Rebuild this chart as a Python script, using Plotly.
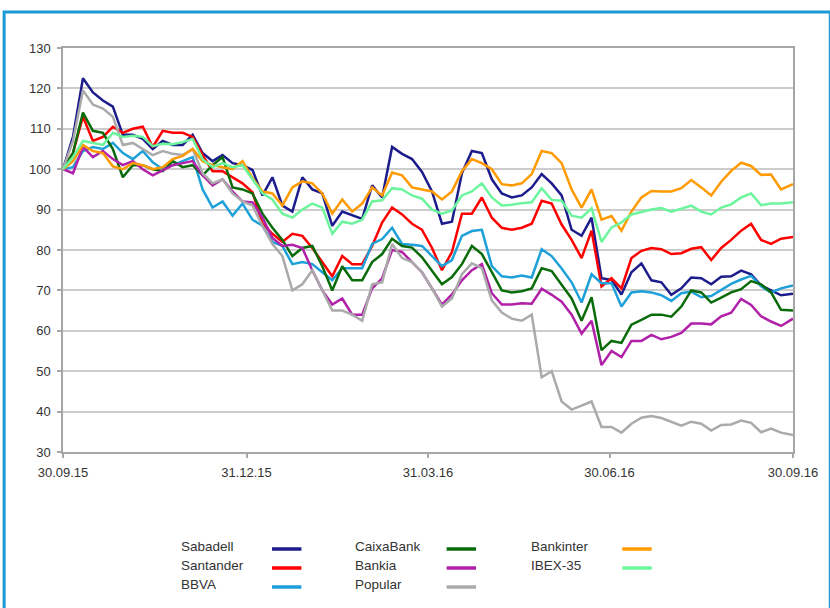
import plotly.graph_objects as go
import pandas as pd

# ---------------- data ----------------
dates = list(pd.date_range("2015-09-30", periods=73, freq="5D")) + [pd.Timestamp("2016-09-30")]

names = ["Sabadell", "Santander", "BBVA", "CaixaBank", "Bankia", "Popular", "Bankinter", "IBEX-35"]
colors = ["#1c1c8c", "#ff0000", "#1ea0d8", "#0a6b0a", "#b020a8", "#aaaaaa", "#ff9a00", "#6cf59c"]

sabadell = [100, 108, 122.5, 119, 117, 115.5, 108.5, 108.5, 107.5, 105,
            107, 106, 106, 108.5, 104, 102, 103.5, 101.5, 101, 99.8,
            93.5, 98, 91, 89.5, 98, 95, 94, 86, 89.5, 88.5,
            87.7, 96, 93, 105.5, 103.8, 102.5, 99.3, 94.5, 86.5, 87,
            99, 104.5, 104, 97.5, 94, 93, 93.5, 95.5, 98.8, 96.5,
            93.5, 85, 83.5, 88, 73, 72.6, 69, 74.5, 76.7, 72.5,
            72, 68.9, 70.5, 73.2, 73, 71.5, 73.4, 73.5, 74.9, 74,
            71.2, 70, 68.8, 69.2]
santander = [100, 104, 113, 107, 108, 110.5, 109, 110, 110.5, 105.5,
             109.5, 109, 109, 108, 103.5, 99.5, 99.5, 98, 96.5, 94.3,
             86.5, 84, 82, 84, 83.5, 80.5, 77, 73.5, 78.5, 76.5,
             76.5, 81, 86.8, 90.5, 88.8, 86.5, 85, 80.5, 75, 79.5,
             89, 89, 93, 88, 85.5, 85, 85.5, 86.5, 92.2, 91.5,
             86.3, 82.5, 78, 84.8, 71, 73, 70.5, 78, 79.8, 80.5,
             80.2, 79, 79.2, 80.3, 80.7, 77.5, 80.5, 82.5, 84.8, 86.5,
             82.5, 81.5, 82.8, 83.2]
bbva = [100, 100.5, 104.5, 105.5, 105, 106.5, 104, 102.5, 104.5, 101.7,
        100, 101, 102, 103, 95, 90.5, 92, 88.5, 91.5, 87.5,
        86, 82, 81, 76.5, 77, 76.5, 74.5, 72.5, 75.5, 75.5,
        75.5, 81.5, 82.7, 85.5, 81.5, 81.3, 81, 78.5, 76, 77.5,
        83.5, 84.7, 85, 76, 73.5, 73.2, 73.7, 73.2, 80.2, 78.5,
        75.4, 72, 67, 74, 71.8, 71.8, 66, 69.5, 69.8, 69.5,
        68.8, 67.4, 69.3, 69.7, 68.3, 68.6, 70, 71.6, 72.7, 73.6,
        71, 69.5, 70.5, 71.2]
caixabank = [100, 104, 114, 109.5, 109, 105, 98, 101, 101, 100,
             99.5, 102, 100.5, 101, 98.5, 101, 103, 95.5, 95, 94,
             89, 85.5, 82.5, 78.5, 80.5, 81, 76, 70, 76, 72.5,
             72.5, 77, 79, 82.8, 81, 80.6, 78.2, 75, 71.5, 73.3,
             76.5, 81, 79, 74.5, 70, 69.5, 69.8, 70.5, 75.5, 74.8,
             71.5, 68, 62.5, 68.3, 55.2, 57.5, 57, 61.5, 62.7, 64,
             64, 63.5, 66, 70, 69.5, 67, 68.2, 69.5, 70.3, 72.3,
             71.5, 69.5, 65.2, 65]
bankia = [100, 99, 105.5, 103, 104.5, 102.5, 101, 102, 100, 98.5,
          99.7, 101, 101.5, 102, 98.5, 96, 97.5, 94.5, 92, 91.8,
          88, 83, 81, 81.3, 80.5, 75, 70, 66.5, 68, 64,
          64, 70.5, 73, 80, 79.5, 77, 74.5, 70.5, 66.5, 69,
          72.5, 75, 76.5, 69.3, 66.5, 66.5, 66.8, 66.7, 70.4, 68.9,
          67.2, 64, 59.3, 62.5, 51.5, 55, 53.5, 57.5, 57.5, 59,
          57.9, 58.5, 59.5, 61.8, 61.8, 61.6, 63.6, 64.5, 67.9, 66.4,
          63.6, 62.3, 61.2, 63]
popular = [100, 107, 119.5, 116, 115, 113, 106, 106.5, 105, 103.5,
           104.5, 103.8, 103.5, 105, 99, 96.5, 97.5, 94, 92, 91,
           86, 81.5, 78.5, 70, 71.5, 75, 70, 65, 65, 64,
           62.5, 71.5, 72, 81.5, 78, 77, 74.5, 70.5, 66, 68,
           74, 76.7, 75.5, 67.5, 64.5, 63, 62.5, 64, 48.5, 50,
           42.5, 40.5, 41.5, 42.5, 36.2, 36.2, 34.8, 37, 38.5, 38.9,
           38.4, 37.4, 36.5, 37.5, 37, 35.3, 36.7, 36.8, 37.8, 37.2,
           34.9, 35.8, 34.8, 34.2]
bankinter = [100, 102, 106, 104.5, 104, 100.7, 100, 101.5, 101, 100,
             100.5, 102.5, 103.3, 105, 102, 101, 100.5, 100, 102, 97.8,
             94.5, 94, 91, 95.5, 97, 96.5, 94, 89, 92.5, 89.5,
             91.5, 95.5, 93.5, 99.2, 98.5, 95.5, 95, 94.5, 92.5, 94.5,
             99.5, 102.5, 101.5, 100, 96.3, 96, 96.5, 98.8, 104.5, 104,
             101.5, 95, 90.5, 95, 87.5, 88.4, 84.8, 89.5, 93, 94.6,
             94.5, 94.5, 95.3, 97.3, 95.5, 93.5, 96.9, 99.6, 101.6, 100.8,
             98.6, 98.7, 95, 96.3]
ibex = [100, 103, 107, 106.5, 106, 109, 108, 108.3, 108, 105.7,
        106.3, 106.2, 106.7, 107.5, 102.5, 100.5, 101.5, 100.5, 101, 97.5,
        94, 92.5, 89, 88, 90, 91.5, 90.5, 84, 87, 86.5,
        87.5, 92, 92.3, 95.3, 95, 93.5, 92.7, 90, 89, 89.8,
        93.5, 94.5, 96.5, 93, 91, 91.2, 91.6, 91.8, 95.3, 92.4,
        92.2, 88.5, 88, 90.3, 82, 85.6, 86.8, 88.8, 89.4, 90,
        90.4, 89.5, 90.2, 91, 89.5, 88.8, 90.5, 91.3, 93, 94,
        91.1, 91.5, 91.5, 91.8]

series = [sabadell, santander, bbva, caixabank, bankia, popular, bankinter, ibex]

tick_dates = ["2015-09-30", "2015-12-31", "2016-03-31", "2016-06-30", "2016-09-30"]
tick_labels = ["30.09.15", "31.12.15", "31.03.16", "30.06.16", "30.09.16"]

# ---------------- layout geometry ----------------
W, H = 830, 608
ML, MR, MT, MB = 63, 23, 48, 156
PW, PH = W - ML - MR, H - MT - MB


def px(x):
    return (x - ML) / PW


def py(y):
    return (H - MB - y) / PH


fig = go.Figure()
for name, vals, col in zip(names, series, colors):
    fig.add_trace(go.Scatter(x=dates, y=vals, mode="lines", name=name,
                             line=dict(color=col, width=2.5), showlegend=False,
                             hoverinfo="skip"))

FONT = "Liberation Sans, Arial, sans-serif"

fig.update_layout(
    width=W, height=H,
    margin=dict(l=ML, r=MR, t=MT, b=MB, pad=0),
    paper_bgcolor="white", plot_bgcolor="white",
    font=dict(family=FONT, size=13, color="#333333"),
    showlegend=False,
)
fig.update_xaxes(
    type="date", range=["2015-09-30", "2016-09-30"],
    tickvals=tick_dates, ticktext=tick_labels,
    ticks="outside", ticklen=4, tickcolor="#a6a6a6", tickwidth=1.5,
    showgrid=False, showline=True, linecolor="#a6a6a6", linewidth=1.5, mirror=True,
    tickfont=dict(family=FONT, size=13, color="#333333"), ticklabelstandoff=4,
    ticklabeloverflow="allow",
)
fig.update_yaxes(
    range=[30, 130], dtick=10, tick0=30,
    ticks="outside", ticklen=4, tickcolor="#a6a6a6", tickwidth=1.5,
    showgrid=True, gridcolor="#cccccc", gridwidth=1.5, zeroline=False,
    showline=True, linecolor="#a6a6a6", linewidth=1.5, mirror=True,
    tickfont=dict(family=FONT, size=13, color="#333333"), ticklabelstandoff=4,
)

# outer blue frame
fig.add_shape(type="rect", xref="paper", yref="paper",
              x0=px(3), x1=px(845), y0=py(620), y1=py(12),
              line=dict(color="#1a9ad6", width=3), fillcolor="rgba(0,0,0,0)", layer="below")

# custom legend: label then line sample to the right, 3 columns
col_text_x = [181, 359, 538]
col_line_x = [276, 454, 633]
row_y = [546, 565, 584]
for i, (name, col) in enumerate(zip(names, colors)):
    c, r = divmod(i, 3)
    fig.add_annotation(xref="paper", yref="paper", x=px(col_text_x[c]), y=py(row_y[r]),
                       text=name, showarrow=False, xanchor="left", yanchor="middle",
                       font=dict(family=FONT, size=13.5, color="#333333"))
    fig.add_shape(type="line", xref="paper", yref="paper",
                  x0=px(col_line_x[c]), x1=px(col_line_x[c] + 30),
                  y0=py(row_y[r] + 3), y1=py(row_y[r] + 3),
                  line=dict(color=col, width=3.5))

fig.write_html("out.html", config={"displayModeBar": False},
               post_script="document.body.style.margin='0';document.body.style.overflow='hidden';")
